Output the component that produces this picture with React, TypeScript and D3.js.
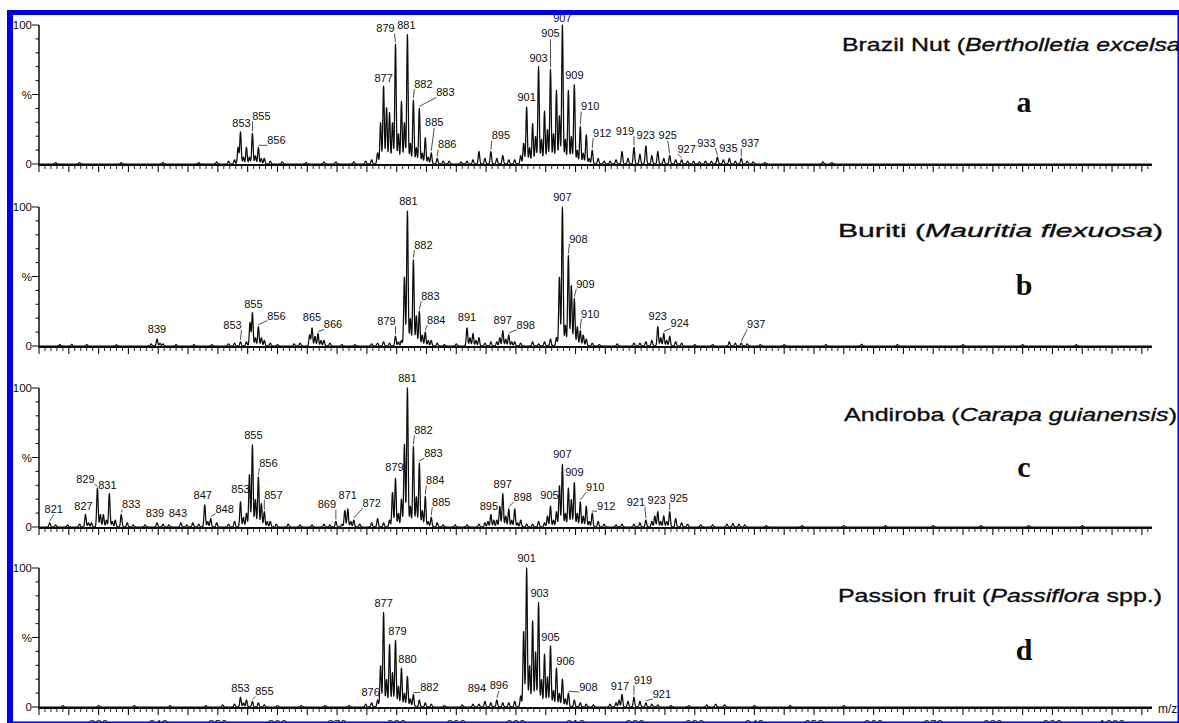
import React from 'react';
import * as d3 from 'd3';

const W = 1179;
const H = 723;

// ---------- DATA (m/z, relative intensity %) ----------
const brazilPeaks: [number, number][] = [
  [822.8,1],[826.8,1],[833.8,1],[840.8,1],[846.8,1],[849.8,1.5],[851.8,2],
  [852.8,3],[853.4,12],[853.8,23],[854.3,5],[854.8,12],[855.3,5],[855.8,22],[856.3,6],[856.8,12],[857.3,4],[857.8,4],[858.8,2],[860.8,1.5],
  [864.8,1],[867.8,1.5],[869.8,1.5],[872.8,1.5],[874.8,2],[875.8,3],[876.8,8],
  [877.3,30],[877.8,56],[878.3,41],[878.8,37],[879.3,30],[879.8,86],[880.3,22],[880.8,45],[881.3,30],[881.8,93],[882.3,15],[882.8,46],[883.3,12],[883.8,40],[884.3,8],[884.8,19],[885.3,5],[885.8,8],[886.8,4],[887.8,2],[888.8,2],[890.8,1.5],[891.8,2],
  [892.8,3],[893.8,9],[894.8,4],[895.8,9],[896.8,4],[897.8,6],[898.8,3],[899.8,3],[900.8,6],
  [901.3,15],[901.8,41],[902.3,12],[902.8,29],[903.3,20],[903.8,70],[904.3,18],[904.8,38],[905.3,25],[905.8,68],[906.3,22],[906.8,53],[907.3,35],[907.8,100],[908.3,18],[908.8,53],[909.3,20],[909.8,57],[910.3,10],[910.8,27],[911.3,8],[911.8,21],[912.3,4],[912.8,10],[913.8,4],[914.8,2],[915.8,2],[916.8,3],
  [917.8,9],[918.8,4],[919.8,12],[920.8,7],[921.8,13],[922.8,6],[923.8,9],[924.8,4],[925.8,6],[926.8,3],[927.8,3],[928.8,2],[929.8,2],[930.8,1.5],[931.8,2],[932.8,2],[933.8,5],[934.8,3],[935.8,4],[936.8,2],[937.8,4],[938.8,2],[939.8,1.5],[941.8,1],[951.5,1.5],[953,1],
];
const brazilLabels = [853, 855, 856, 877, 879, 881, 882, 883, 885, 886, 895, 901, 903, 905, 907, 909, 910, 912, 919, 923, 925, 927, 933, 935, 937];

const buritiPeaks: [number, number][] = [
  [823.5,1],[825.5,1.2],[828,1],[833,0.8],[838.8,1.5],[839.8,5],[840.3,2],[840.8,1.5],[843,1],[846,1],[849,1],[851.8,1.5],[852.8,2],[853.8,3],[854.8,3],[855.4,17],[855.8,24],[856.3,6],[856.8,14],[857.3,6],[857.8,4],[858.8,2],[860,1],[862.8,1.5],[863.8,2],[865.4,8],[865.8,13],[866.3,7],[866.8,9],[867.3,4],[867.8,4],[868.8,2],[870.8,1],[873,1],[875.8,1.5],[876.8,2],[877.8,3],[878.8,2],[879.8,7],[880.3,3],[880.8,4],
  [881.3,50],[881.8,97],[882.3,20],[882.8,62],[883.3,22],[883.8,25],[884.3,8],[884.8,10],[885.3,4],[885.8,4],[886.8,2],[888,1],[890,1.5],
  [891.8,13],[892.3,6],[892.8,9],[893.3,4],[893.8,6],[894.8,2],[895.8,3],[896.8,3],[897.3,6],[897.8,11],[898.3,5],[898.8,8],[899.3,3],[899.8,3],[900.8,2],[902.8,3],[903.8,1.5],[904.8,3],[905.8,5],[906.8,6],
  [907.3,50],[907.8,100],[908.3,15],[908.8,65],[909.3,44],[909.8,34],[910.3,14],[910.8,11],[911.3,8],[911.8,5],[912.8,2],[914,1],[917,1.5],[919.8,2],[920.8,2],[921.8,3],[922.8,4],
  [923.8,14],[924.3,6],[924.8,9],[925.3,4],[925.8,7],[926.8,3],[927.8,2],[930,1],[933,1],[935.8,3],[936.8,2],[937.8,2],[938.8,1.5],[941,1],[945,1],[952,1],[958,1.2],[964,1],[975,1],[985,1],[994,1],
];
const buritiLabels = [839, 853, 855, 856, 865, 866, 879, 881, 882, 883, 884, 891, 897, 898, 907, 908, 909, 910, 923, 924, 937];

const andirobaPeaks: [number, number][] = [
  [821.8,3],[822.8,1.5],[824.8,1.5],[826.8,2],[827.8,9],[828.3,3],[828.8,3],[829.8,28],[830.3,9],[830.8,9],[831.3,5],[831.8,24],[832.3,4],[832.8,5],[833.8,9],[834.8,3],[835.8,1.5],[837.8,1.5],[839.8,3],[840.8,2],[841.8,1.5],[843.8,3],[844.8,1.5],[845.8,3],[846.8,2],[847.8,16],[848.3,4],[848.8,6],[849.8,3],[851.8,2],[852.8,4],[853.8,18],[854.3,7],[854.8,10],[855.3,38],[855.8,59],[856.3,20],[856.8,36],[857.3,17],[857.8,11],[858.3,4],[858.8,4],[859.8,2],[861.8,2],[863.8,1.5],[865.8,1.5],[867.8,2],[868.8,1.5],[869.8,4],[870.8,2],[871.3,12],[871.8,13],[872.3,4],[872.8,5],[873.8,2],[875.8,3],[876.8,6],[877.8,3],[878.8,5],
  [879.3,25],[879.8,35],[880.3,10],[880.8,20],[881.3,60],[881.8,100],[882.3,15],[882.8,58],[883.3,22],[883.8,46],[884.3,12],[884.8,22],[885.3,4],[885.8,7],[886.8,3],[887.8,1.5],[889.8,1.5],[891.8,1.5],[893.8,2],[894.8,3],[895.3,4],[895.8,9],[896.3,5],[896.8,5],[897.3,15],[897.8,24],[898.3,8],[898.8,13],[899.3,5],[899.8,13],[900.3,3],[900.8,5],[901.8,2],[902.8,2],[903.8,4],[904.8,3],
  [905.3,8],[905.8,15],[906.3,5],[906.8,11],[907.3,30],[907.8,45],[908.3,10],[908.8,28],[909.3,20],[909.8,32],[910.3,10],[910.8,18],[911.3,8],[911.8,15],[912.3,4],[912.8,10],[913.8,4],[914.8,2],[916.8,1.5],[917.8,2],[919.8,2],[920.8,3],[921.8,5],[922.8,4],[923.3,8],[923.8,11],[924.3,4],[924.8,8],[925.3,4],[925.8,11],[926.8,6],[927.8,3],[928.8,2],[931,1.5],[933,1.5],[935.4,2],[936.4,2.5],[937.4,2],[938.4,1.5],[942,1],[948,1],[955,1],[962,1],[970,1],[978,1],[986,1],[995,1],
];
const andirobaLabels = [821, 827, 829, 831, 833, 839, 843, 847, 848, 853, 855, 856, 857, 869, 871, 872, 879, 881, 882, 883, 884, 885, 895, 897, 898, 905, 907, 909, 910, 912, 921, 923, 925];

const passionPeaks: [number, number][] = [
  [824,1],[830,1],[836,1],[842,1],[848,1],[850.8,1.5],[852.8,2],[853.8,7],[854.3,3],[854.8,5],[855.8,4],[856.8,3],[857.8,1.5],[860,1],[864,1],[868,1],[872,1],[874.8,2],[875.8,3],[876.8,5],
  [877.3,30],[877.8,68],[878.3,20],[878.8,45],[879.3,25],[879.8,48],[880.3,15],[880.8,28],[881.3,10],[881.8,22],[882.3,6],[882.8,9],[883.8,5],[884.8,3],[885.8,2],[888,1],[891,1.5],[892.8,2],[893.8,2],[894.8,4],[895.8,3],[896.8,5],[897.8,3],[898.8,3],[899.8,4],[900.8,8],
  [901.3,55],[901.8,100],[902.3,30],[902.8,62],[903.3,40],[903.8,75],[904.3,20],[904.8,38],[905.3,22],[905.8,44],[906.3,12],[906.8,28],[907.3,10],[907.8,20],[908.3,6],[908.8,10],[909.8,5],[910.8,3],[911.8,2],[913,1.5],[915.8,2],[916.8,3],[917.3,5],[917.8,9],[918.8,4],[919.8,7],[920.8,4],[921.8,3],[922.8,2],[923.8,1.5],[926,1],[929,1],[932,1.5],[933.5,2],[935,1.5],[940,1],[946,1],[955,1],
];
const passionLabels = [853, 855, 876, 877, 879, 880, 882, 894, 896, 901, 903, 905, 906, 908, 917, 919, 921];

const brazilTitle: [string, boolean][] = [["Brazil Nut (", false], ["Bertholletia excelsa", true], [")", false]];
const buritiTitle: [string, boolean][] = [["Buriti (", false], ["Mauritia flexuosa", true], [")", false]];
const andirobaTitle: [string, boolean][] = [["Andiroba (", false], ["Carapa guianensis", true], [")", false]];
const passionTitle: [string, boolean][] = [["Passion fruit (", false], ["Passiflora", true], [" spp.)", false]];

const panelLetters = ['a', 'b', 'c', 'd'];
const yTickLabels: [number, string][] = [[0, '0'], [50, '%'], [100, '100']];
const xTickLabelValues = d3.range(830, 1001, 10);
const MASS_DEFECT = 0.8;

// ---------- LAYOUT (pixel offsets of peak labels from peak apex: dx, dy, leader) ----------
const brazilOffsets: number[][] = [
  [1,-4,0],[9,-12,1],[18,-2,1],[0,-3,0],[-10,-11,1],[-1,-4.5,0],[10,-11,1],[26,-11,1],[3,-26,1],[10,-9,1],[10,-11,1],
  [0,-5,0],[0,-4,0],[0,-31,1],[0,-2.5,0],[0,-5,0],[10,-15,1],[10,-12,1],[-9,-11,1],[-12,-11.5,0],[-2,-16,1],[5,-6,1],[-11,-9,1],[-1,-5,0],[9,-10,1],
];
const buritiOffsets: number[][] = [
  [0,-5,0],[-8,-12,1],[1,-4,0],[18,-6,1],[0,-6,0],[15,-4,1],[-9,-10,1],[1,-5,0],[10,-10,1],[11,-10,1],[11,-7,1],
  [0,-6,0],[0,-6,0],[17,-5,1],[0,-5,0],[10,-12,1],[11,-10,1],[10,-12,1],[0,-6,0],[16,-5,1],[15,-14,1],
];
const andirobaOffsets: number[][] = [
  [4,-9,1],[-2,-3,0],[-12,-4,1],[-2,-4,0],[10,-5,1],[-2,-5,0],[-3,-5,0],[-2,-5,0],[14,-5,1],[0,-8,0],[1,-5,0],[10,-9,1],[9,-12,1],
  [-9,-12,1],[0,-9,0],[18,-12,1],[-1,-6,0],[0,-5,0],[10,-11,1],[14,-5,1],[10,-11,1],[10,-10,1],
  [-2,-3,0],[0,-5,0],[14,-7,1],[-1,-6,0],[0,-5,0],[0,-6,0],[15,-10,1],[14,-2,1],[-10,-13,1],[-1,-7,0],[9,-9,1],
];
const passionOffsets: number[][] = [
  [0,-4,0],[12,-5,1],[-7,-3,0],[0,-4,0],[2,-4,0],[6,-4,0],[16,-2,1],[-8,-8,0],[2,-10,1],
  [0,-5,0],[1,-5,0],[0,-4,0],[9,-2,1],[20,-1,1],[-2,-3,0],[9,-12,1],[16,-4,1],
];

const PANEL_TOPS = [25, 207, 388, 568];
const PANEL_H = 139;
const TITLE_POS = [[842, 51, 347], [838, 237, 325], [844, 421, 333], [838, 602, 324]];
const LETTER_BASE = [112, 295, 477, 660];
const X0 = 39;
const X1 = 1152;
const BLUE = '#0000e8';
const INK = '#0d0d0d';
const SANS = "'Liberation Sans', Arial, Helvetica, sans-serif";

const xScale = d3.scaleLinear().domain([820, 1006.7]).range([X0, X1]);

const SIGMA = 0.12;
function profile(peaks: [number, number][]): [number, number][] {
  const sorted = [...peaks].sort((a, b) => a[0] - b[0]);
  const grid = d3.range(820, 1006.7, 0.04);
  return grid.map((m) => {
    let s = 0;
    for (const [pm, pi] of sorted) {
      const d = m - pm;
      if (d > 0.7) continue;
      if (d < -0.7) break;
      s += pi * Math.exp(-(d * d) / (2 * SIGMA * SIGMA));
    }
    return [m, Math.min(s, 100)];
  });
}

function Panel({ idx, peaks, labels, offsets, title }: { idx: number; peaks: [number, number][]; labels: number[]; offsets: number[][]; title: [string, boolean][] }) {
  const top = PANEL_TOPS[idx];
  const y0 = top + PANEL_H;
  const y = d3.scaleLinear().domain([0, 100]).range([y0, top]);
  const line = d3.line<[number, number]>().x((d) => xScale(d[0])).y((d) => y(d[1]));
  const path = line(profile(peaks)) || '';
  const minor = d3.range(820, 1007, 1);
  const yMinor = d3.range(0, 101, 10);
  const [tx, ty, tl] = TITLE_POS[idx];

  const labelEls = labels.map((n, i) => {
    const target = n + MASS_DEFECT;
    let best = peaks[0];
    for (const p of peaks) if (Math.abs(p[0] - target) < Math.abs(best[0] - target)) best = p;
    const ax = xScale(best[0]);
    const ay = y(best[1]) - 1;
    const [dx, dy, lead] = offsets[i] || [0, -4, 0];
    const lx = ax + dx;
    const ly = ay + dy;
    let leader = null;
    if (lead) {
      let ex = lx, ey = ly + 2;
      if (dx > 4) { ex = lx - 9; ey = ly + 1; }
      else if (dx < -4) { ex = lx + 9; ey = ly + 1; }
      if (Math.hypot(ex - ax, ey - ay) > 3) {
        leader = <line x1={ax} y1={ay - 1} x2={ex} y2={ey} stroke="#222" strokeWidth={0.8} />;
      }
    }
    return (
      <g key={n}>
        {leader}
        <text x={lx} y={ly} textAnchor="middle" fontSize={11} fill={INK}>{String(n)}</text>
      </g>
    );
  });

  return (
    <g>
      {/* x axis */}
      <line x1={X0} x2={X1} y1={y0 + 1} y2={y0 + 1} stroke={INK} strokeWidth={2.2} />
      {minor.map((m) => {
        const major = m % 5 === 0;
        return <line key={m} x1={xScale(m)} x2={xScale(m)} y1={y0 + 2} y2={y0 + (major ? 8 : 5)} stroke={INK} strokeWidth={major ? 1.1 : 0.9} />;
      })}
      {/* y axis */}
      <line x1={X0} x2={X0} y1={top} y2={y0 + 2} stroke={INK} strokeWidth={1.5} />
      {yMinor.map((v) => {
        const major = v % 50 === 0;
        return <line key={v} x1={X0 - (major ? 7 : 3.5)} x2={X0} y1={y(v)} y2={y(v)} stroke={INK} strokeWidth={1} />;
      })}
      {yTickLabels.map(([v, t]) => (
        <text key={t} x={X0 - 7} y={y(v)} dy="0.36em" textAnchor="end" fontSize={11.5} fill={INK}>{t}</text>
      ))}
      {/* spectrum */}
      <path d={path} fill="none" stroke={INK} strokeWidth={1.25} strokeLinejoin="round" />
      {labelEls}
      {/* title */}
      <text x={tx} y={ty} fontSize={19} fill={INK} stroke={INK} strokeWidth={0.35} textLength={tl} lengthAdjust="spacingAndGlyphs">
        {title.map(([s, it], k) => (
          <tspan key={k} fontStyle={it ? 'italic' : 'normal'}>{s}</tspan>
        ))}
      </text>
      <text x={1024} y={LETTER_BASE[idx]} textAnchor="middle" fontFamily="'Liberation Serif', 'Times New Roman', serif" fontWeight="bold" fontSize={30} fill={INK}>{panelLetters[idx]}</text>
    </g>
  );
}

export default function App() {
  const panels = [
    { peaks: brazilPeaks, labels: brazilLabels, offsets: brazilOffsets, title: brazilTitle },
    { peaks: buritiPeaks, labels: buritiLabels, offsets: buritiOffsets, title: buritiTitle },
    { peaks: andirobaPeaks, labels: andirobaLabels, offsets: andirobaOffsets, title: andirobaTitle },
    { peaks: passionPeaks, labels: passionLabels, offsets: passionOffsets, title: passionTitle },
  ];
  const lastBase = PANEL_TOPS[3] + PANEL_H;
  return (
    <div style={{ position: 'absolute', left: 0, top: 0, width: W, height: H, background: '#fff', overflow: 'hidden' }}>
      <svg width={W} height={H} viewBox={`0 0 ${W} ${H}`} style={{ display: 'block' }} fontFamily={SANS}>
        <rect x={0} y={0} width={W} height={H} fill="#fff" />
        {panels.map((p, i) => (
          <Panel key={i} idx={i} peaks={p.peaks} labels={p.labels} offsets={p.offsets} title={p.title} />
        ))}
        {xTickLabelValues.map((v) => (
          <text key={v} x={xScale(v)} y={lastBase + 21} textAnchor="middle" fontSize={11.5} fill={INK}>{String(v)}</text>
        ))}
        <text x={1158} y={lastBase + 6} fontSize={12} fill={INK}>m/z</text>
        {/* blue frame */}
        <rect x={7} y={10} width={W - 7} height={5} fill={BLUE} />
        <rect x={7} y={10} width={6} height={H - 10} fill={BLUE} />
        <rect x={W - 1.5} y={10} width={1.5} height={H - 10} fill={BLUE} />
        <rect x={7} y={H - 1.5} width={W - 7} height={1.5} fill={BLUE} />
      </svg>
    </div>
  );
}
